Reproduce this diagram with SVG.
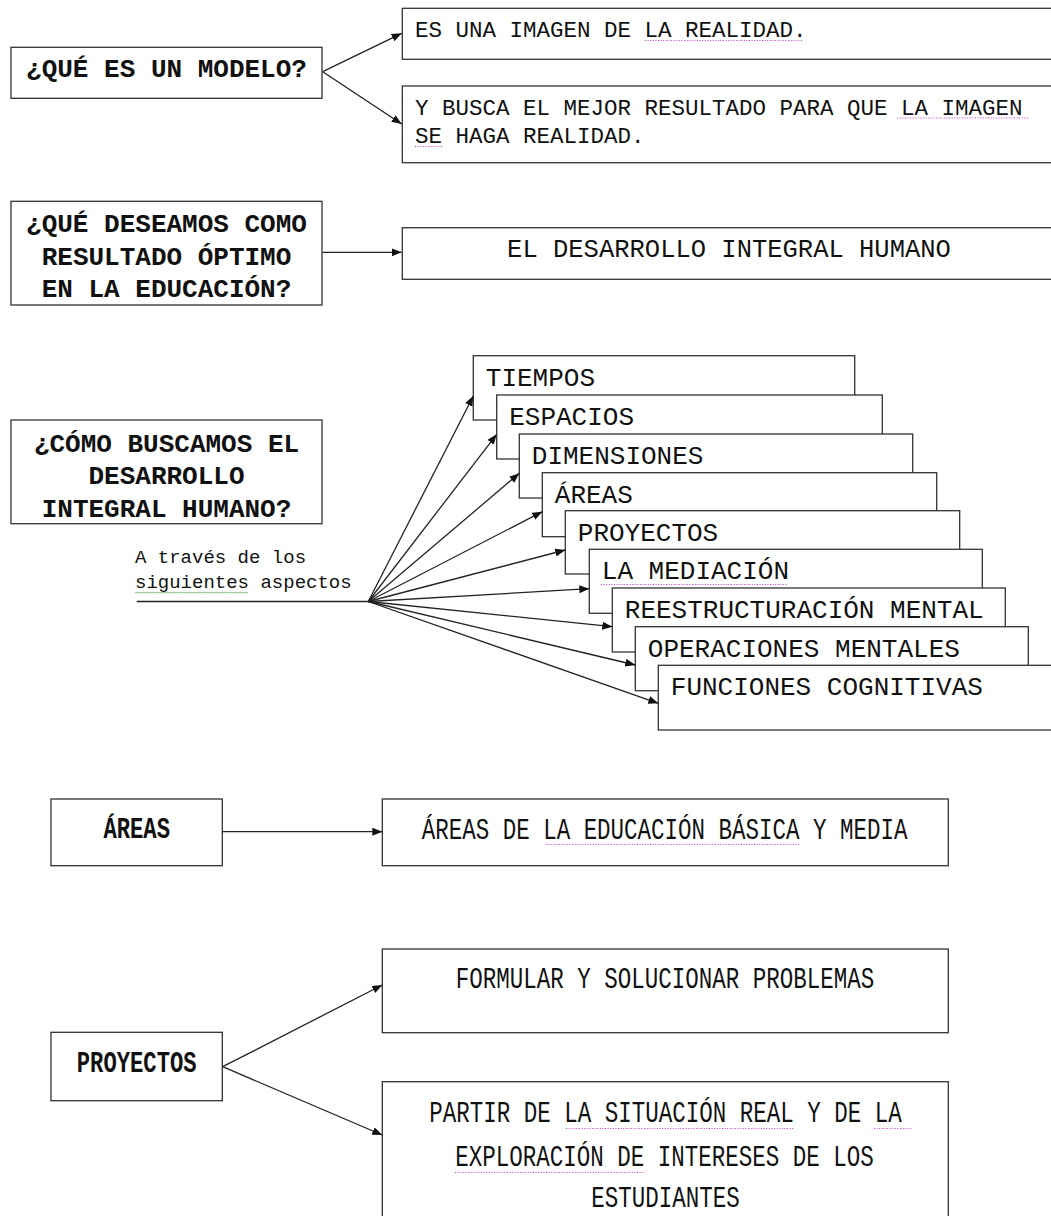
<svg xmlns="http://www.w3.org/2000/svg" width="1051" height="1216" viewBox="0 0 1051 1216">
<style>
.box{fill:#fff;stroke:#333;stroke-width:1.3}
.conn{stroke:#222;stroke-width:1.3;fill:none;marker-end:url(#ah)}
.plain{stroke:#222;stroke-width:1.3;fill:none}
.t{font-family:"Courier New","Liberation Mono",monospace;fill:#111}
.b{font-weight:bold}
.m{text-anchor:middle}
.ul{stroke:#e030e0;stroke-width:1;stroke-dasharray:1 1.6;fill:none}
</style>
<defs>
<marker id="ah" markerUnits="userSpaceOnUse" markerWidth="11" markerHeight="9" refX="10" refY="4" orient="auto">
<path d="M0,0 L10,4 L0,8 z" fill="#111"/>
</marker>
<pattern id="wave" width="3" height="3" patternUnits="userSpaceOnUse">
<path d="M0,0.6 L1.5,2.2 L3,0.6" stroke="#3a9a3a" stroke-width="0.8" fill="none"/>
</pattern>
</defs>
<rect width="1051" height="1216" fill="#fff"/>

<g id="q1">
<rect class="box" x="11" y="47.3" width="311" height="51"/>
<text class="t b m" x="166.5" y="77.3" font-size="26">¿QUÉ ES UN MODELO?</text>
</g>
<g id="a1">
<rect class="box" x="402.3" y="8.3" width="660" height="51"/>
<text class="t" x="415" y="37.3" font-size="22.5">ES UNA IMAGEN DE LA REALIDAD.</text>
<line class="ul" x1="645" y1="40.5" x2="802" y2="40.5"/>
</g>
<g id="a2">
<rect class="box" x="402.3" y="86" width="660" height="76.7"/>
<text class="t" x="415" y="115" font-size="22.5">Y BUSCA EL MEJOR RESULTADO PARA QUE LA IMAGEN</text>
<text class="t" x="415" y="143.3" font-size="22.5">SE HAGA REALIDAD.</text>
<line class="ul" x1="897" y1="118" x2="1029" y2="118"/>
<line class="ul" x1="415" y1="146.5" x2="442" y2="146.5"/>
</g>
<g id="q2">
<rect class="box" x="11" y="201.3" width="311" height="103.7"/>
<text class="t b m" x="166.5" y="232.3" font-size="26">¿QUÉ DESEAMOS COMO</text>
<text class="t b m" x="166.5" y="265" font-size="26">RESULTADO ÓPTIMO</text>
<text class="t b m" x="166.5" y="296.7" font-size="26">EN LA EDUCACIÓN?</text>
</g>
<g id="a3">
<rect class="box" x="402.3" y="227.7" width="660" height="51.6"/>
<text class="t m" x="729" y="256.7" font-size="25.5">EL DESARROLLO INTEGRAL HUMANO</text>
</g>

<g id="q3">
<rect class="box" x="11" y="420" width="311" height="103.7"/>
<text class="t b m" x="166.5" y="451.7" font-size="26">¿CÓMO BUSCAMOS EL</text>
<text class="t b m" x="166.5" y="484.3" font-size="26">DESARROLLO</text>
<text class="t b m" x="166.5" y="516.7" font-size="26">INTEGRAL HUMANO?</text>
</g>
<g id="via">
<text class="t" x="135" y="563.3" font-size="19">A través de los</text>
<text class="t" x="135" y="588.3" font-size="19">siguientes aspectos</text>
<rect x="135" y="591.3" width="113" height="3" fill="url(#wave)"/>
</g>

<g id="s1">
<rect class="box" x="473.3" y="355.7" width="381.4" height="64.3"/>
<text class="t" x="485.8" y="385.7" font-size="26">TIEMPOS</text>
</g>
<g id="s2">
<rect class="box" x="496.7" y="395" width="385.6" height="64"/>
<text class="t" x="509.2" y="425" font-size="26">ESPACIOS</text>
</g>
<g id="s3">
<rect class="box" x="519.3" y="434" width="393.4" height="64"/>
<text class="t" x="531.8" y="463.6" font-size="26">DIMENSIONES</text>
</g>
<g id="s4">
<rect class="box" x="542.3" y="472.7" width="394.4" height="64"/>
<text class="t" x="554.8" y="502.5" font-size="26">ÁREAS</text>
</g>
<g id="s5">
<rect class="box" x="565.3" y="510.7" width="394.4" height="63.3"/>
<text class="t" x="577.8" y="540.5" font-size="26">PROYECTOS</text>
</g>
<g id="s6">
<rect class="box" x="589.3" y="549.3" width="393" height="64"/>
<text class="t" x="601.8" y="579.2" font-size="26">LA MEDIACIÓN</text>
<line class="ul" x1="601" y1="584.5" x2="788" y2="584.5"/>
</g>
<g id="s7">
<rect class="box" x="612.3" y="588" width="393" height="64"/>
<text class="t" x="624.8" y="617.8" font-size="26">REESTRUCTURACIÓN MENTAL</text>
</g>
<g id="s8">
<rect class="box" x="635.3" y="626.7" width="393" height="64"/>
<text class="t" x="647.8" y="656.5" font-size="26">OPERACIONES MENTALES</text>
</g>
<g id="s9">
<rect class="box" x="658.3" y="665.3" width="400" height="64.7"/>
<text class="t" x="670.8" y="695" font-size="26">FUNCIONES COGNITIVAS</text>
</g>

<g id="areas">
<rect class="box" x="51" y="799" width="171.3" height="66.7"/>
<text class="t b m" font-size="30" transform="translate(136.7 838.3) scale(0.74 1)">ÁREAS</text>
</g>
<g id="areas_d">
<rect class="box" x="382.3" y="799" width="566" height="66.7"/>
<text class="t" font-size="30" transform="translate(421.7 839.3) scale(0.75 1)">ÁREAS DE LA EDUCACIÓN BÁSICA Y MEDIA</text>
<line class="ul" x1="546" y1="844.5" x2="799" y2="844.5"/>
</g>
<g id="proyectos">
<rect class="box" x="51" y="1032.3" width="171.3" height="68.4"/>
<text class="t b m" font-size="30" transform="translate(136.7 1071.7) scale(0.74 1)">PROYECTOS</text>
</g>
<g id="formular">
<rect class="box" x="382.3" y="949" width="566" height="83.7"/>
<text class="t m" font-size="30" transform="translate(665 988.3) scale(0.75 1)">FORMULAR Y SOLUCIONAR PROBLEMAS</text>
</g>
<g id="partir">
<rect class="box" x="382.3" y="1081.7" width="566" height="150"/>
<text class="t m" font-size="30" transform="translate(665.5 1121.7) scale(0.75 1)">PARTIR DE LA SITUACIÓN REAL Y DE LA</text>
<text class="t m" font-size="30" transform="translate(664.5 1166) scale(0.75 1)">EXPLORACIÓN DE INTERESES DE LOS</text>
<text class="t m" font-size="30" transform="translate(665.5 1207) scale(0.75 1)">ESTUDIANTES</text>
<line class="ul" x1="566" y1="1128.5" x2="794" y2="1128.5"/>
<line class="ul" x1="874" y1="1128.5" x2="913" y2="1128.5"/>
<line class="ul" x1="455" y1="1172.5" x2="644" y2="1172.5"/>
</g>

<g id="connectors">
<line class="conn" x1="322.7" y1="71.7" x2="401.7" y2="33.3"/>
<line class="conn" x1="322.7" y1="71.7" x2="401.7" y2="124"/>
<line class="conn" x1="322.7" y1="252.3" x2="401.7" y2="252.3"/>
<line class="plain" x1="136.7" y1="601.5" x2="368.3" y2="601.5"/>
<line class="conn" x1="368.3" y1="601.5" x2="473.3" y2="396"/>
<line class="conn" x1="368.3" y1="601.5" x2="496.7" y2="434.3"/>
<line class="conn" x1="368.3" y1="601.5" x2="519.3" y2="473.3"/>
<line class="conn" x1="368.3" y1="601.5" x2="542.3" y2="511.7"/>
<line class="conn" x1="368.3" y1="601.5" x2="565.3" y2="550"/>
<line class="conn" x1="368.3" y1="601.5" x2="589.3" y2="588.7"/>
<line class="conn" x1="368.3" y1="601.5" x2="612.3" y2="626.7"/>
<line class="conn" x1="368.3" y1="601.5" x2="635.3" y2="665"/>
<line class="conn" x1="368.3" y1="601.5" x2="658.3" y2="703.3"/>
<line class="conn" x1="222.3" y1="831.7" x2="382.3" y2="831.7"/>
<line class="conn" x1="222.7" y1="1066.7" x2="382.3" y2="985"/>
<line class="conn" x1="222.7" y1="1066.7" x2="382.3" y2="1135"/>
</g>
</svg>
